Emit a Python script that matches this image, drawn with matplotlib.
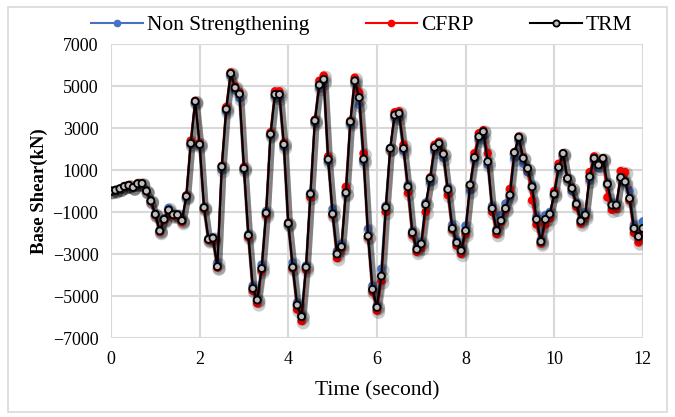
import numpy as np
import matplotlib
matplotlib.use("Agg")
import matplotlib.pyplot as plt
import matplotlib.patheffects as pe

plt.rcParams["font.family"] = ["Liberation Serif", "DejaVu Serif"]

# time axis (s)
time = [round(0.1 * i, 1) for i in range(121)]

# base shear (kN)
trm = [0, 40, 110, 220, 270, 170, 350, 360, 0, -470,
       -1110, -1900, -1350, -900, -1130, -1130, -1410, -250, 2270, 4270,
       2220, -790, -2300, -2240, -3600, 1160, 3900, 5600, 4920, 4620,
       1080, -2110, -4640, -5190, -3690, -1050, 2710, 4600, 4600, 2220,
       -1540, -3630, -5430, -5980, -3630, -140, 3350, 5050, 5320, 1510,
       -1090, -3000, -2650, -80, 3300, 5250, 4450, 1520, -2140, -4680,
       -5540, -4050, -780, 2030, 3620, 3700, 2030, 200, -1980, -2780,
       -2520, -640, 600, 2080, 2270, 1760, 80, -1780, -2460, -2840,
       -1890, 290, 1600, 2590, 2830, 1400, -830, -1890, -1410, -830,
       -190, 1830, 2560, 1560, 1080, 200, -1350, -2410, -1350, -1100,
       -140, 1130, 1790, 600, 130, -620, -1430, -1140, 680, 1560,
       1240, 1560, 330, -670, -670, 650, 440, -350, -1780, -2170,
       -1780]

cfrp = [0, 30, 100, 230, 290, 180, 370, 380, -20, -500,
        -1150, -1950, -1400, -950, -1180, -1200, -1480, -200, 2400, 4300,
        2300, -850, -2350, -2350, -3650, 1200, 4000, 5650, 5000, 4700,
        1150, -2200, -4750, -5350, -3800, -1150, 2800, 4750, 4750, 2300,
        -1500, -3700, -5650, -6200, -3750, -300, 3400, 5250, 5500, 1650,
        -1150, -3200, -2750, 200, 3350, 5400, 4700, 1800, -2200, -4800,
        -5700, -4300, -1000, 2000, 3750, 3800, 2200, -100, -2100, -2900,
        -2700, -1000, 650, 2200, 2350, 1800, -200, -1850, -2600, -3000,
        -2050, 250, 1800, 2750, 2900, 1800, -1000, -2050, -1500, -900,
        100, 1850, 2600, 1600, 1050, -450, -1600, -2500, -1600, -1300,
        0, 1300, 1800, 600, 150, -750, -1550, -1250, 900, 1650,
        1250, 1550, -300, -900, -850, 950, 900, -450, -2000, -2450,
        -2000]

non_str = [0, 50, 120, 210, 260, 160, 330, 340, 20, -440,
           -1080, -1850, -1300, -800, -1100, -1100, -1380, -300, 2200, 4200,
           2150, -750, -2250, -2200, -3400, 1000, 3800, 5500, 4800, 4400,
           1000, -2050, -4500, -5150, -3500, -950, 2650, 4500, 4450, 2100,
           -1600, -3400, -5300, -5900, -3550, -100, 3250, 4900, 5200, 1400,
           -850, -2850, -2500, -150, 3200, 5150, 4100, 1400, -1800, -4500,
           -5450, -3700, -700, 2050, 3500, 3500, 1900, 300, -1900, -2650,
           -2400, -550, 400, 1900, 2200, 1550, 150, -1600, -2350, -2750,
           -1650, 0, 1500, 2450, 2600, 1250, -700, -1800, -1150, -600,
           -300, 1550, 2450, 1300, 900, 300, -1200, -2300, -1150, -1000,
           -200, 1000, 1700, 550, 0, -550, -1350, -1000, 500, 1450,
           1100, 1450, 400, -550, -600, 600, 350, 0, -1600, -2100,
           -1450]

fig = plt.figure(figsize=(6.75, 4.17), dpi=100)
ax = fig.add_axes([0.1644, 0.1894, 0.788, 0.705])

shadow = [pe.SimpleLineShadow(offset=(1.2, -1.2), shadow_color="black",
                              alpha=0.2, linewidth=4.5), pe.Normal()]

ax.plot(time, non_str, color="#4472C4", lw=1.5, marker="o", ms=5,
        mfc="#4472C4", mec="#4472C4", label="Non Strengthening",
        path_effects=shadow, zorder=3)
ax.plot(time, cfrp, color="#FF0000", lw=1.5, marker="o", ms=5,
        mfc="#FF0000", mec="#FF0000", label="CFRP",
        path_effects=shadow, zorder=4)
ax.plot(time, trm, color="black", lw=1.5, marker="o", ms=5,
        mfc="#BFBFBF", mec="black", mew=1.3, label="TRM",
        path_effects=shadow, zorder=5)

ax.set_xlim(0, 12)
ax.set_ylim(-7000, 7000)
ax.set_xticks(np.arange(0, 13, 2))
ax.set_yticks(np.arange(-7000, 7001, 2000))
ax.grid(True, color="#D9D9D9", lw=1.5)
ax.set_axisbelow(True)
for s in ax.spines.values():
    s.set_visible(False)
ax.tick_params(length=0, labelsize=13, pad=9)
ax.tick_params(axis="x", pad=9)

ax.set_xlabel("Time (second)", fontsize=15.5, labelpad=10)
ax.set_ylabel("Base Shear(kN)", fontsize=13.5, fontweight="bold", labelpad=3)

leg = fig.legend(loc="upper center", bbox_to_anchor=(0.536, 1.01), ncol=3,
                 frameon=False, fontsize=15.5, handlelength=2.4,
                 columnspacing=2.6, handletextpad=0.2)
for h in leg.legend_handles:
    h.set_markersize(4.5)
    h.set_path_effects([])

# chart border
fig.patches.append(plt.Rectangle((0.012, 0.012), 0.976, 0.972,
                                 transform=fig.transFigure, fill=False,
                                 edgecolor="#D9D9D9", lw=1.2))

plt.savefig("out.png", dpi=100)
